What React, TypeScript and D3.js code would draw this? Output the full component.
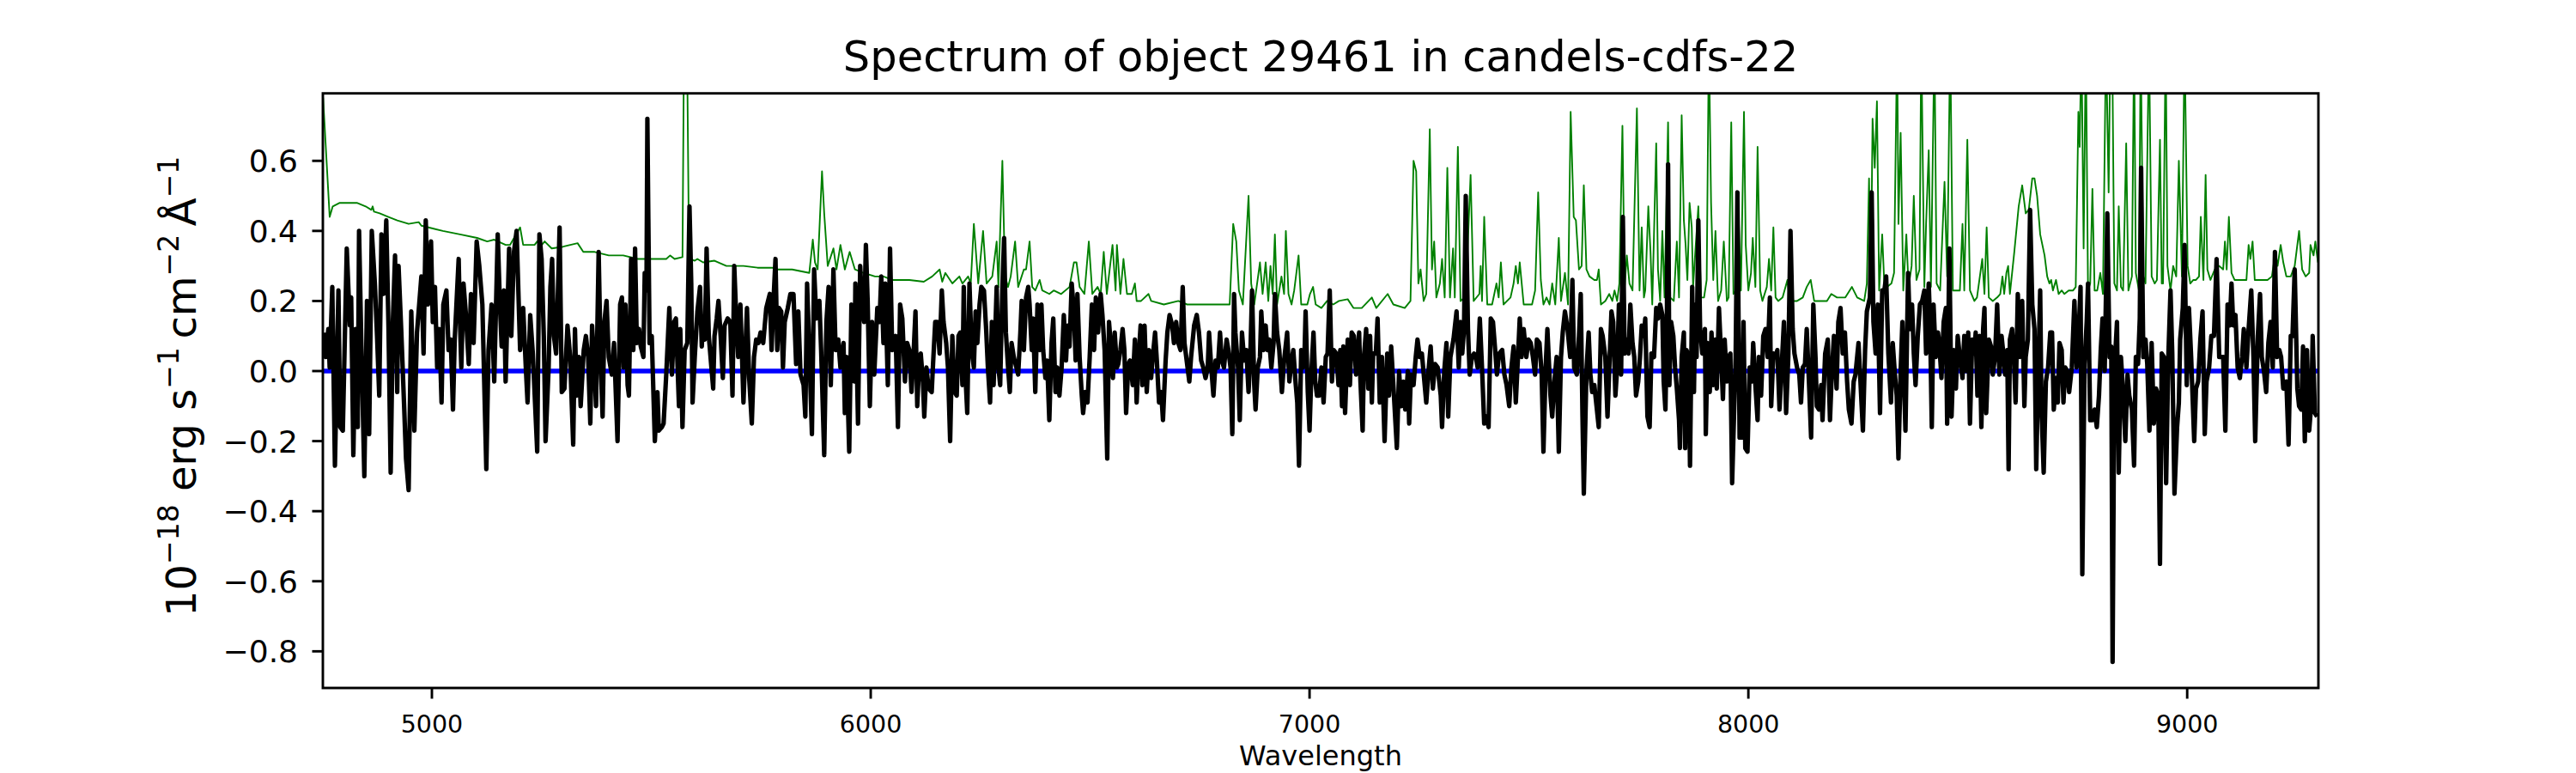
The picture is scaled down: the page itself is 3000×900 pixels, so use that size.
import React from "react";
import * as d3 from "d3";

// ---- data ----
const blackWave = [
4754,4758,4764,4767,4773,4779,4787,4791,4797,4806,4813,4816,4821,4826,4831,4834,4839,4846,4852,4857,4863,4870,4875,4880,4885,4890,4896,4901,4906,4911,4916,4921,4924,4930,4937,4941,4947,4953,4960,4966,4976,4981,4986,4991,4998,5002,5007,5012,5017,5022,5026,5033,5038,5043,5048,5052,5061,5064,5067,5072,5077,5084,5089,5095,5102,5108,5115,5124,5129,5136,5142,5150,5155,5159,5164,5168,5176,5181,5187,5193,5201,5208,5214,5218,5224,5230,5240,5245,5250,5255,5259,5266,5270,5274,5278,5283,5286,5291,5296,5302,5309,5315,5322,5326,5330,5335,5339,5346,5351,5356,5361,5365,5371,5374,5380,5385,5389,5393,5398,5403,5410,5415,5423,5429,5433,5437,5441,5446,5449,5454,5459,5463,5467,5472,5476,5482,5485,5489,5491,5496,5501,5508,
5514,5517,5524,5528,5534,5541,5547,5552,5556,5563,5566,5571,5576,5582,5587,5591,5594,5599,5605,5611,5615,5618,5622,5626,5631,5637,5641,5644,5649,5653,5658,5663,5667,5674,5680,5685,5689,5693,5698,5703,5710,5713,5718,5723,5729,5734,5739,5744,5749,5755,5762,5770,5774,5778,5783,5787,5791,5796,5800,5804,5811,5817,5824,5830,5835,5840,5847,5851,5855,5860,5866,5871,5876,5883,5887,5894,5899,5904,5909,5915,5920,5926,5931,5938,5941,5945,5951,5956,5963,5965,5971,5976,5980,5985,5989,5993,5998,6003,6008,6015,6020,6024,6029,6033,6039,6044,6049,6057,6062,6067,6072,6078,6083,6088,6093,6098,6102,6106,6111,6114,6119,6122,6127,6132,6139,6142,6147,6152,6157,6162,6166,6172,6176,6181,6186,6191,6196,6200,6204,6209,6212,6215,6220,6225,6230,6235,6239,6243,6248,6252,6258,6263,6267,6272,6276,
6280,6287,6291,6295,6300,6304,6308,6313,6317,6321,6326,6330,6336,6341,6344,6349,6354,6359,6362,6367,6370,6375,6380,6385,6389,6393,6398,6402,6407,6412,6416,6421,6425,6430,6435,6440,6445,6449,6453,6458,6463,6467,6471,6476,6481,6484,6489,6494,6499,6504,6509,6513,6518,6524,6528,6533,6539,6543,6548,6552,6556,6561,6564,6569,6574,6578,6582,6587,6591,6597,6602,6606,6610,6615,6619,6624,6629,6634,6639,6642,6648,6652,6657,6662,6666,6672,6676,6681,6687,6691,6696,6701,6706,6711,6715,6721,6726,6730,6737,6743,6748,6753,6758,6763,6768,6771,6776,6781,6786,6791,6796,6800,6805,6811,6815,6820,6824,6828,6831,6837,6841,6846,6851,6856,6861,6865,6869,6874,6877,6882,6887,6890,6895,6900,6904,6908,6913,6918,6921,6926,6931,6937,6942,6949,6954,6959,6963,6968,6972,6976,6981,6985,6988,6991,6996,7000,7004,7009,7013,7017,7022,7027,7032,7037,
7041,7046,7051,7055,7061,7066,7070,7074,7077,7081,7087,7092,7096,7101,7106,7113,7116,7121,7124,7129,7134,7138,7142,7145,7151,7155,7160,7165,7171,7177,7181,7186,7191,7199,7204,7209,7214,7218,7224,7227,7231,7237,7242,7246,7251,7256,7261,7266,7271,7276,7281,7286,7292,7299,7302,7307,7312,7316,7321,7328,7335,7340,7344,7348,7352,7356,7361,7365,7370,7375,7379,7383,7388,7393,7398,7403,7408,7413,7418,7423,7427,7432,7439,7444,7449,7455,7460,7465,7470,7475,7479,7483,7488,7494,7499,7504,7509,7514,7518,7524,7529,7533,7538,7542,7549,7553,7558,7563,7568,7573,7577,7582,7588,7594,7599,7603,7609,7614,7618,7622,7625,7631,7636,7640,7644,7649,7654,7659,7664,7668,7674,7679,7684,7688,7692,7697,7701,7705,7710,7714,7718,7723,7727,7731,7736,7740,7744,7749,7753,7757,7762,7765,7770,7775,7779,7785,7790,7794,7799,
7804,7807,7811,7814,7817,7820,7824,7829,7833,7837,7842,7844,7848,7853,7856,7859,7864,7867,7872,7876,7879,7882,7886,7890,7895,7901,7903,7907,7912,7916,7920,7925,7928,7933,7938,7942,7946,7951,7955,7959,7963,7967,7971,7975,7980,7985,7989,7993,7998,8003,8008,8011,8016,8021,8024,8029,8034,8039,8044,8049,8052,8057,8062,8066,8071,8077,8081,8086,8091,8096,8101,8105,8111,8116,8120,8124,8129,8133,8138,8143,8148,8153,8156,8161,8166,8169,8175,8181,8186,8190,8195,8201,8205,8210,8215,8220,8225,8229,8235,8240,8244,8251,8255,8261,8266,8270,8277,8281,8285,8290,8295,8300,8305,8310,8314,8319,8325,8329,8334,8338,8342,8347,8351,8355,8358,8364,8368,8373,8377,8381,8386,8391,8396,8401,8405,8411,8414,8418,8422,8427,8432,8435,8440,8445,8450,8453,8458,8463,8468,8473,8477,8482,8488,8492,8497,8501,8505,8510,8515,8518,8522,8527,8531,8535,8538,8542,8548,8553,8557,8562,
8567,8572,8577,8581,8585,8590,8593,8596,8601,8605,8609,8614,8619,8624,8629,8632,8637,8642,8647,8652,8656,8660,8665,8668,8673,8678,8683,8688,8692,8696,8701,8705,8709,8714,8718,8722,8727,8731,8737,8743,8748,8753,8757,8761,8766,8771,8774,8779,8784,8789,8794,8799,8803,8807,8812,8818,8823,8827,8830,8834,8840,8844,8849,8854,8859,8864,8868,8874,8879,8883,8888,8892,8895,8900,8905,8909,8914,8919,8924,8929,8934,8938,8942,8947,8952,8957,8962,8966,8971,8977,8981,8984,8990,8994,8999,9004,9009,9016,9020,9025,9030,9035,9040,9044,9050,9055,9061,9067,9073,9077,9082,9087,9092,9097,9101,9105,9110,9115,9120,9125,9129,9135,9140,9146,9151,9155,9161,9166,9170,9175,9180,9185,9190,9195,9200,9205,9210,9214,9219,9226,9231,9236,9240,9245,9251,9255,9260,9264,9268,9273,9278,9283,9286,9291,9296
];

const blackFlux = [
0.11,0.04,0.12,0.01,0.24,-0.27,0.23,-0.16,-0.17,0.35,0.13,0.21,-0.24,0.12,-0.16,0.40,0.09,-0.30,0.20,-0.18,0.40,0.25,0.10,-0.07,0.39,0.22,0.43,0.13,-0.29,0.14,0.33,-0.06,0.30,0.12,-0.11,-0.25,-0.34,0.17,-0.17,0.11,0.27,0.05,0.43,0.19,0.37,0.14,0.24,0.01,0.12,-0.09,0.19,0.23,0.06,0.09,-0.11,0.09,0.32,0.14,0.01,0.25,0.17,0.02,0.22,0.08,0.37,0.30,0.19,-0.28,0.06,0.19,-0.03,0.39,0.19,0.07,0.23,-0.03,0.35,0.10,0.34,0.40,0.06,0.18,0.01,-0.09,0.16,0.05,-0.23,0.39,0.32,0.10,-0.20,0.01,0.24,0.32,0.10,0.05,0.17,0.41,-0.06,-0.05,0.13,0.04,-0.21,0.12,-0.07,0.04,-0.10,0.06,0.10,0.04,-0.15,0.13,-0.01,-0.10,0.34,0.01,-0.13,0.14,0.20,0.04,-0.01,0.08,-0.20,0.19,0.21,0.01,0.19,-0.04,-0.07,0.32,0.06,0.35,0.08,0.12,0.07,0.04,0.28,0.23,0.72,0.08,0.10,-0.20,
-0.06,-0.17,-0.16,-0.15,-0.01,0.18,-0.01,0.14,0.15,-0.10,0.12,-0.16,0.06,0.08,0.47,0.25,-0.09,0.04,0.17,0.24,0.07,0.15,0.09,0.35,0.10,0.01,-0.05,0.10,0.15,0.20,0.10,-0.02,0.13,0.15,0.14,-0.07,0.30,0.17,0.04,0.19,-0.09,0.01,0.18,-0.02,-0.15,0.04,0.09,0.08,0.11,0.08,0.18,0.22,0.06,0.19,0.32,0.06,0.18,0.17,0.01,0.14,0.18,0.22,0.22,0.02,0.17,-0.01,-0.04,-0.13,0.25,0.06,-0.18,0.29,0.15,0.20,0.06,-0.24,0.14,0.24,-0.04,0.29,0.06,0.09,0.01,0.08,-0.12,0.04,-0.23,0.19,-0.03,0.25,-0.15,0.30,0.19,0.14,0.36,0.20,-0.10,0.14,-0.01,0.18,0.14,0.27,0.08,0.25,-0.04,0.35,0.06,0.10,-0.16,0.19,0.15,-0.03,0.08,0.06,-0.06,0.06,0.17,-0.10,0.04,0.05,-0.03,-0.13,0.01,-0.05,-0.06,0.02,0.14,0.14,0.05,0.23,0.14,0.08,0.01,-0.20,0.10,-0.06,-0.07,0.10,0.11,-0.04,0.24,0.01,-0.12,0.25,0.06,0.01,0.17,0.08,0.19,0.24,0.23,0.12,0.01,-0.09,0.14,
-0.04,0.24,0.01,-0.04,0.24,0.38,0.11,0.01,-0.06,0.08,0.04,0.02,-0.01,0.11,0.20,0.06,0.21,0.24,0.19,0.06,0.15,-0.06,0.19,0.06,0.19,0.06,-0.02,0.03,-0.14,0.08,0.15,-0.06,0.01,-0.07,0.01,0.16,0.03,0.13,0.07,0.25,0.17,0.03,0.22,0.04,-0.07,-0.12,-0.06,-0.09,0.04,0.19,0.06,0.21,0.11,0.22,0.16,0.06,-0.25,0.14,0.06,-0.02,0.11,0.01,0.02,0.06,0.12,0.06,-0.12,0.02,0.03,-0.04,0.09,-0.09,0.03,0.13,-0.04,0.13,-0.06,0.06,-0.02,0.03,0.11,0.03,-0.09,-0.06,-0.14,0.03,0.11,0.16,0.13,0.08,0.14,0.08,0.06,0.24,0.08,0.02,-0.03,0.04,0.13,0.16,0.11,0.03,0.01,-0.02,0.01,0.11,0.01,-0.07,0.03,0.01,0.11,0.03,0.01,0.09,0.06,0.01,-0.18,0.22,0.11,0.01,-0.14,0.11,0.03,0.06,-0.06,0.04,0.23,-0.04,-0.11,0.01,0.04,0.17,0.06,0.13,0.06,0.09,0.01,0.08,0.22,0.11,0.06,-0.06,0.03,0.11,-0.03,0.03,0.06,-0.03,-0.09,-0.27,0.06,0.01,0.02,0.17,-0.06,-0.17,-0.01,0.11,-0.03,-0.07,-0.07,0.01,-0.09,0.04,
0.05,0.23,-0.03,0.06,0.05,-0.04,0.06,-0.10,0.07,-0.12,0.09,-0.04,0.11,0.10,-0.01,0.11,-0.03,-0.17,0.04,0.12,-0.05,0.10,-0.09,0.05,0.05,0.15,-0.09,0.04,-0.20,0.05,-0.07,0.07,-0.04,-0.22,0.00,-0.10,-0.03,-0.11,0.00,-0.15,-0.01,-0.04,0.04,0.09,0.04,0.05,-0.02,-0.09,0.00,0.07,-0.05,0.02,0.01,-0.07,-0.16,0.00,0.08,-0.13,0.04,0.09,0.17,0.01,0.14,0.05,0.12,0.50,0.12,-0.01,0.04,0.05,0.04,0.01,0.15,0.01,-0.15,-0.13,-0.16,0.15,0.14,0.06,-0.01,0.05,0.06,-0.01,-0.04,-0.10,0.01,0.07,-0.09,0.04,0.15,0.04,0.12,0.04,0.09,0.08,0.04,-0.01,0.09,0.08,-0.01,-0.23,0.01,0.12,-0.07,-0.13,-0.03,0.04,-0.23,0.04,0.11,0.17,0.12,0.04,0.26,0.01,-0.01,0.10,0.22,-0.13,-0.35,0.00,0.11,-0.01,-0.06,-0.04,-0.10,-0.16,0.12,0.10,0.04,-0.13,0.04,0.17,0.14,-0.07,0.01,0.19,-0.01,0.44,0.05,0.09,0.05,0.19,0.08,0.04,-0.07,-0.03,0.04,0.13,0.10,0.15,-0.13,-0.16,0.05,0.04,0.18,0.15,0.19,
0.16,-0.03,-0.11,0.10,0.59,-0.04,0.14,0.10,0.01,-0.05,-0.14,-0.22,0.04,0.11,-0.22,0.06,0.04,-0.27,0.24,-0.06,0.19,0.04,0.43,0.12,0.05,0.12,-0.18,0.08,-0.06,0.11,-0.04,0.09,-0.05,0.18,0.04,-0.08,0.09,-0.03,0.04,0.05,-0.32,-0.14,0.04,0.51,-0.19,-0.19,0.14,-0.22,-0.23,0.01,-0.03,0.08,-0.04,-0.14,0.04,-0.07,0.10,0.12,0.04,0.21,-0.10,0.05,0.04,0.06,-0.11,0.04,0.14,-0.12,0.04,0.40,0.12,0.05,0.01,-0.01,-0.09,0.01,0.02,0.12,-0.03,-0.19,0.19,0.04,-0.10,-0.11,-0.04,-0.14,0.05,0.09,-0.14,-0.01,0.10,-0.05,0.14,0.18,0.05,0.11,-0.03,-0.11,-0.15,-0.03,-0.01,0.08,-0.02,-0.17,0.06,0.17,0.21,0.51,0.14,0.05,0.19,-0.12,0.23,0.23,0.27,0.05,-0.09,0.08,-0.01,-0.07,-0.25,0.00,0.14,-0.04,-0.17,0.28,0.12,0.19,0.05,-0.04,0.10,0.19,0.20,0.23,0.05,0.25,0.14,-0.16,0.19,0.04,0.11,0.08,-0.02,0.14,0.18,-0.15,0.35,-0.13,0.06,-0.05,0.10,0.04,-0.02,0.10,0.00,0.11,-0.15,0.09,0.05,0.11,-0.07,0.10,-0.16,0.12,0.18,-0.12,0.09,0.07,-0.01,0.04,
0.19,-0.01,0.10,0.05,-0.01,0.06,-0.28,0.09,0.12,0.04,-0.09,0.22,0.04,0.20,-0.10,0.04,0.09,0.46,0.19,0.12,-0.28,-0.03,0.23,-0.11,-0.29,-0.03,0.01,0.11,0.11,-0.11,-0.02,-0.09,0.08,0.06,-0.09,0.01,0.00,-0.06,0.01,0.20,0.01,0.12,0.24,-0.58,0.02,0.14,0.25,-0.14,-0.14,-0.11,-0.16,-0.07,0.06,0.15,0.00,0.45,0.04,0.07,-0.83,0.00,0.14,-0.29,0.04,-0.06,-0.20,-0.01,-0.07,-0.11,-0.27,0.04,0.02,0.15,0.58,0.04,0.09,0.02,-0.17,0.08,-0.15,-0.05,-0.07,-0.55,0.05,0.04,-0.32,0.04,0.23,0.05,-0.35,-0.16,-0.09,0.09,0.18,0.36,-0.04,0.18,0.04,-0.20,-0.05,-0.03,0.09,0.17,-0.18,-0.03,0.01,0.10,0.10,0.32,0.04,0.04,0.04,-0.17,0.19,0.13,0.25,0.13,0.16,0.01,-0.02,0.04,0.12,0.01,0.12,0.23,0.04,-0.20,0.10,0.22,0.04,0.00,-0.06,0.08,0.14,0.01,0.34,0.04,0.06,0.04,-0.05,-0.03,-0.21,0.10,0.10,0.29,-0.05,-0.10,-0.11,0.07,-0.20,0.06,-0.17,-0.09,0.10,-0.12,-0.13
];

const greenWave = [
4752,4767,4774,4790,4829,4849,4862,4865,4868,4881,4901,4921,4947,4970,4976,4992,5025,5064,5103,5126,5142,5168,5178,5201,5208,5234,5240,5247,5257,5273,5299,5332,5345,5371,5403,5436,5469,
5514,5534,5543,5553,5571,5574,5579,5582,5586,5599,5605,5618,5644,5671,5710,5742,5775,5788,5821,5860,5868,5873,5879,5889,5894,5902,5915,5922,5931,5941,5952,5964,5984,6010,6029,6049,6088,6121,6140,6157,6163,6170,6186,6202,6209,6222,6228,6235,6245,6256,6264,
6277,6287,6291,6300,6306,6313,6319,6329,6336,6349,6354,6362,6368,6375,6385,6391,6407,6417,6434,6453,6463,6469,6476,6487,6497,6505,6517,6524,6531,6538,6551,6558,6561,6569,6576,6584,6595,6602,6606,6616,6633,6639,6668,6701,6721,6766,6818,6826,6833,6839,6848,6861,6867,6874,6887,6893,6900,6906,6911,6916,6921,6926,6936,6942,6946,6952,6959,6965,6975,6981,6995,7001,7008,7014,7027,7040,
7054,7067,7087,7100,7119,7142,7152,7178,7191,7217,7230,7237,7243,7248,7253,7260,7266,7274,7279,7284,7289,7297,7302,7308,7314,7320,7327,7331,7338,7344,7353,7357,7367,7374,7387,7390,7393,7398,7405,7416,7426,7431,7436,7442,7458,7465,7470,7475,7479,7488,7507,7514,7521,7527,7533,7540,7547,7553,7560,7568,7573,7582,7589,7595,7602,7607,7614,7620,7625,7631,7638,7649,7655,7659,7664,7674,7683,7690,7695,7701,7706,7713,7718,7723,7729,7736,7746,7752,7757,7762,7765,7772,7777,7781,7790,7794,7799,
7804,7809,7817,7822,7830,7837,7842,7848,7853,7857,7861,7866,7871,7874,7879,7886,7892,7899,7905,7910,7915,7920,7925,7931,7938,7944,7951,7955,7961,7966,7972,7977,7983,7990,7994,8000,8006,8010,8016,8021,8027,8032,8042,8047,8052,8057,8062,8068,8078,8089,8094,8111,8124,8133,8142,8150,8163,8179,8189,8202,8221,8236,8248,8264,8270,8275,8279,8283,8288,8293,8298,8305,8310,8316,8326,8332,8339,8342,8347,8353,8360,8365,8372,8377,8383,8390,8394,8401,8405,8411,8416,8424,8429,8437,8447,8453,8460,8466,8473,8482,8488,8492,8499,8505,8515,8521,8533,8538,8543,8548,8557,
8567,8574,8579,8583,8588,8592,8596,8606,8616,8624,8632,8639,8647,8652,8658,8665,8675,8681,8686,8690,8694,8701,8707,8714,8720,8730,8740,8746,8752,8755,8759,8764,8769,8774,8779,8784,8789,8795,8802,8808,8815,8821,8825,8829,8834,8840,8844,8849,8854,8861,8866,8874,8879,8883,8890,8894,8900,8905,8913,8919,8926,8931,8938,8942,8945,8951,8955,8962,8968,8975,8981,8988,8994,9001,9007,9014,9020,9027,9031,9037,9042,9046,9053,9063,9073,9082,9086,9090,9095,9101,9108,9118,9128,9135,9140,9144,9149,9154,9164,9174,9183,9193,9201,9206,9213,9219,9226,9236,9245,9255,9262,9270,9278,9281,9288,9292,9298
];

const greenFlux = [
0.78,0.44,0.47,0.48,0.48,0.47,0.46,0.47,0.455,0.45,0.44,0.43,0.42,0.425,0.415,0.41,0.40,0.39,0.38,0.37,0.375,0.36,0.36,0.41,0.36,0.36,0.37,0.355,0.37,0.35,0.355,0.365,0.34,0.34,0.33,0.33,0.32,
0.32,0.32,0.33,0.32,0.325,0.85,1.2,0.85,0.32,0.315,0.32,0.31,0.315,0.30,0.30,0.295,0.295,0.29,0.29,0.28,0.375,0.31,0.29,0.57,0.45,0.30,0.35,0.29,0.36,0.29,0.34,0.29,0.28,0.27,0.27,0.26,0.26,0.255,0.27,0.29,0.255,0.28,0.25,0.27,0.25,0.27,0.25,0.42,0.25,0.40,0.25,
0.27,0.37,0.24,0.60,0.27,0.24,0.27,0.37,0.24,0.29,0.29,0.37,0.24,0.23,0.26,0.23,0.22,0.23,0.22,0.24,0.31,0.31,0.24,0.22,0.37,0.22,0.24,0.22,0.34,0.22,0.36,0.23,0.36,0.22,0.32,0.22,0.22,0.25,0.20,0.20,0.22,0.20,0.19,0.20,0.19,0.19,0.19,0.42,0.37,0.23,0.19,0.50,0.25,0.19,0.31,0.22,0.31,0.20,0.30,0.22,0.39,0.19,0.27,0.22,0.40,0.22,0.19,0.23,0.33,0.19,0.19,0.22,0.24,0.19,0.18,0.20,
0.19,0.20,0.205,0.18,0.18,0.21,0.18,0.22,0.19,0.18,0.20,0.60,0.57,0.25,0.29,0.20,0.22,0.69,0.29,0.37,0.21,0.25,0.32,0.21,0.58,0.21,0.35,0.21,0.64,0.20,0.21,0.25,0.56,0.20,0.22,0.30,0.20,0.44,0.19,0.19,0.25,0.21,0.31,0.19,0.21,0.25,0.30,0.25,0.31,0.19,0.19,0.23,0.51,0.26,0.19,0.21,0.19,0.25,0.19,0.38,0.20,0.28,0.19,0.74,0.44,0.43,0.29,0.30,0.53,0.29,0.27,0.26,0.26,0.29,0.19,0.20,0.22,0.20,0.23,0.20,0.25,0.70,0.24,0.33,0.25,0.23,0.75,0.23,0.41,0.21,0.23,0.47,0.34,0.19,0.65,0.29,0.20,
0.40,0.21,0.71,0.21,0.20,0.37,0.21,0.73,0.43,0.36,0.26,0.48,0.41,0.24,0.34,0.47,0.21,0.21,0.26,0.95,0.48,0.26,0.40,0.20,0.23,0.37,0.20,0.21,0.71,0.22,0.23,0.47,0.23,0.74,0.36,0.23,0.28,0.38,0.24,0.64,0.23,0.20,0.24,0.32,0.23,0.41,0.21,0.20,0.21,0.26,0.20,0.20,0.21,0.24,0.26,0.20,0.20,0.20,0.22,0.21,0.21,0.24,0.21,0.20,0.25,0.55,0.23,0.72,0.58,0.77,0.23,0.39,0.24,0.24,0.25,0.28,0.95,0.42,0.68,0.23,0.39,0.24,0.30,0.50,0.26,0.29,0.95,0.24,0.42,0.63,0.24,0.95,0.25,0.23,0.54,0.27,0.95,0.23,0.23,0.23,0.42,0.23,0.66,0.23,0.20,0.21,0.32,0.22,0.41,0.21,0.20,
0.21,0.22,0.27,0.22,0.28,0.30,0.22,0.34,0.47,0.53,0.45,0.46,0.55,0.55,0.50,0.39,0.33,0.27,0.25,0.26,0.23,0.26,0.22,0.23,0.22,0.23,0.23,0.24,0.74,0.64,0.95,0.35,0.95,0.23,0.25,0.52,0.23,0.23,0.28,0.22,0.95,0.51,0.95,0.95,0.25,0.23,0.47,0.24,0.23,0.65,0.23,0.27,0.95,0.28,0.23,0.95,0.27,0.25,0.95,0.27,0.25,0.26,0.66,0.25,0.25,0.95,0.30,0.23,0.30,0.27,0.60,0.27,0.95,0.30,0.25,0.26,0.26,0.27,0.44,0.26,0.56,0.29,0.26,0.29,0.30,0.29,0.37,0.29,0.44,0.28,0.26,0.26,0.26,0.26,0.36,0.32,0.37,0.26,0.26,0.26,0.26,0.27,0.34,0.30,0.36,0.31,0.27,0.27,0.30,0.40,0.29,0.27,0.28,0.36,0.33,0.37,0.31
];

const xTicks = [5000, 6000, 7000, 8000, 9000];
const yTicks = [-0.8, -0.6, -0.4, -0.2, 0.0, 0.2, 0.4, 0.6];
const xDomain = [4751.5, 9299];
const yDomain = [-0.9046, 0.7926];
const titleText = "Spectrum of object 29461 in candels-cdfs-22";
const xLabelText = "Wavelength";

const W = 3000, H = 900;
const M = { left: 376, right: 2700, top: 108.7, bottom: 801 };
const FONT = "'DejaVu Sans', sans-serif";

function fmtY(v: number) {
  const s = Math.abs(v).toFixed(1);
  return v < 0 ? "\u2212" + s : s;
}

export default function App() {
  const x = d3.scaleLinear().domain(xDomain).range([M.left, M.right]);
  const y = d3.scaleLinear().domain(yDomain).range([M.bottom, M.top]);

  const black = d3.line<number>()
    .x((_, i) => x(blackWave[i]))
    .y((d) => y(d))(blackFlux) || "";
  const green = d3.line<number>()
    .x((_, i) => x(greenWave[i]))
    .y((d) => y(d))(greenFlux) || "";

  const tickLen = 12.5;
  const cy = (M.top + M.bottom) / 2;

  return (
    <svg width={W} height={H} style={{ position: "absolute", left: 0, top: 0, background: "#fff" }}
      fontFamily={FONT}>
      <defs>
        <clipPath id="plotClip">
          <rect x={M.left} y={M.top} width={M.right - M.left} height={M.bottom - M.top} />
        </clipPath>
      </defs>
      <rect x={0} y={0} width={W} height={H} fill="#fff" />
      <g clipPath="url(#plotClip)">
        <path d={green} fill="none" stroke="#008000" strokeWidth={1.9} strokeLinejoin="round" />
        <line x1={M.left} x2={M.right} y1={y(0)} y2={y(0)} stroke="#0000ff" strokeWidth={5.5} />
        <path d={black} fill="none" stroke="#000" strokeWidth={5.2} strokeLinejoin="round" />
      </g>
      <rect x={M.left} y={M.top} width={M.right - M.left} height={M.bottom - M.top}
        fill="none" stroke="#000" strokeWidth={2.9} />
      {yTicks.map((t) => (
        <g key={"y" + t}>
          <line x1={M.left - tickLen} x2={M.left} y1={y(t)} y2={y(t)} stroke="#000" strokeWidth={2.9} />
          <text x={M.left - 29} y={y(t)} dy="0.36em" textAnchor="end" fontSize={36} fill="#000">{fmtY(t)}</text>
        </g>
      ))}
      {xTicks.map((t) => (
        <g key={"x" + t}>
          <line x1={x(t)} x2={x(t)} y1={M.bottom} y2={M.bottom + tickLen} stroke="#000" strokeWidth={2.9} />
          <text x={x(t)} y={853} textAnchor="middle" fontSize={28.5} fill="#000">{t}</text>
        </g>
      ))}
      <text x={(M.left + M.right) / 2} y={891} textAnchor="middle" fontSize={32} fill="#000">{xLabelText}</text>
      <text x={(M.left + M.right) / 2} y={83} textAnchor="middle" fontSize={49.5} fill="#000">{titleText}</text>
      <text transform={`translate(228,${cy - 5}) rotate(-90)`} textAnchor="middle" fontSize={48} fill="#000">
        <tspan>10</tspan>
        <tspan fontSize={33} dy={-20}>{"\u221218"}</tspan>
        <tspan dy={20}>{" erg s"}</tspan>
        <tspan fontSize={33} dy={-20}>{"\u22121"}</tspan>
        <tspan dy={20}>{"\u2009cm"}</tspan>
        <tspan fontSize={33} dy={-20}>{"\u22122"}</tspan>
        <tspan dy={20}>{"\u2009\u00c5"}</tspan>
        <tspan fontSize={33} dy={-20}>{"\u22121"}</tspan>
      </text>
    </svg>
  );
}
